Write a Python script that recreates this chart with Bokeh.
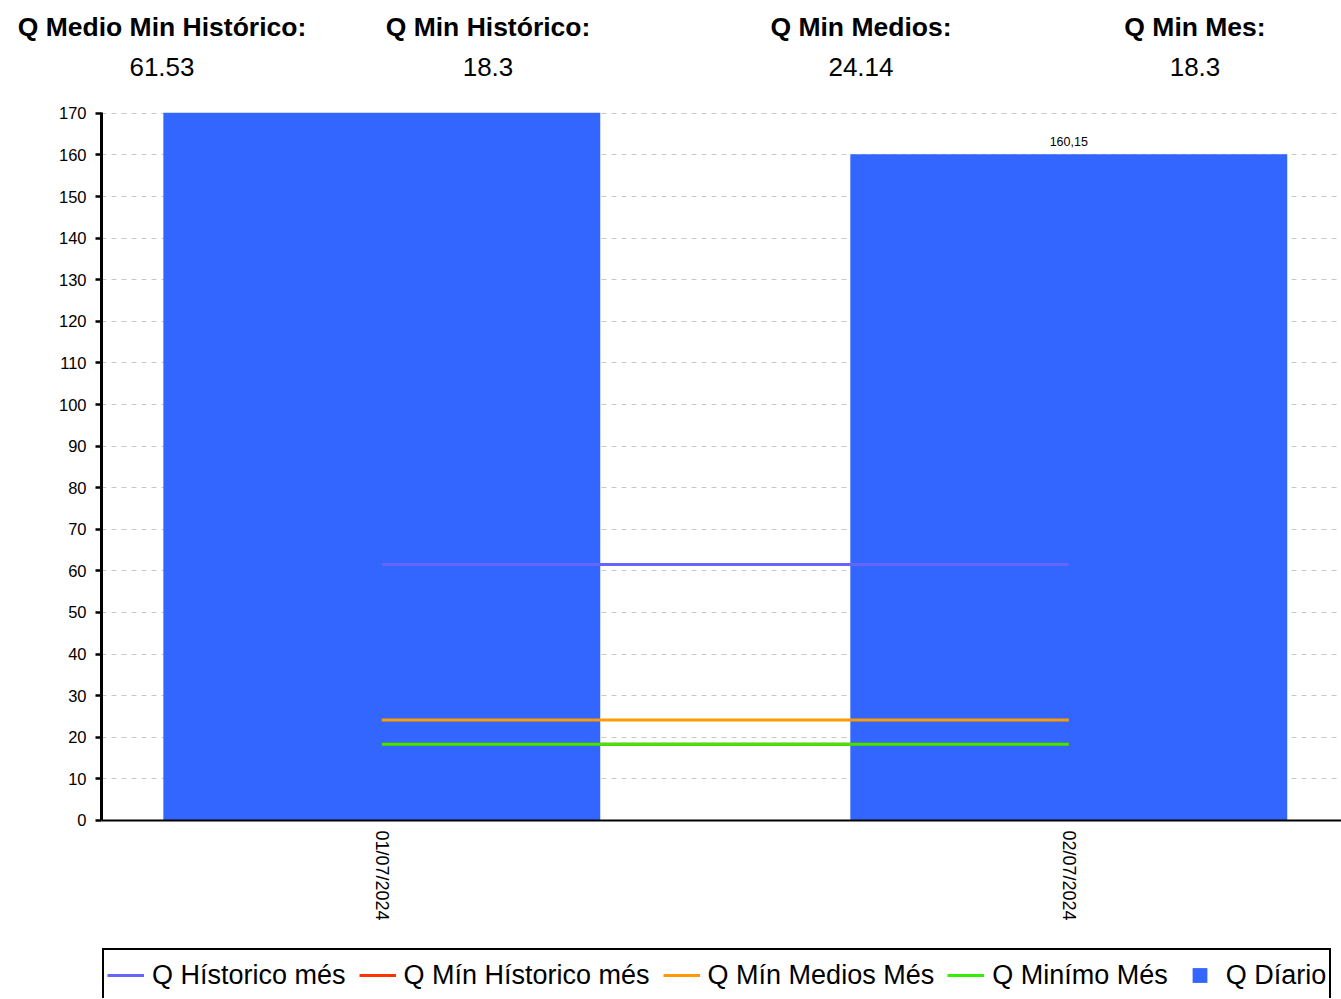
import math
from bokeh.plotting import figure
from bokeh.layouts import column
from bokeh.models import Range1d, FixedTicker, Legend, LegendItem, ColumnDataSource, Div
from bokeh.core.properties import value
from bokeh.embed import file_html
from bokeh.resources import INLINE

# ---------------- data ----------------
dates = ["01/07/2024", "02/07/2024"]
q_diario = [170.5, 160.15]
q_diario_labels = ["170,5", "160,15"]
q_historico_mes = [61.53, 61.53]
q_min_historico_mes = [18.3, 18.3]
q_min_medios_mes = [24.14, 24.14]
q_minimo_mes = [18.3, 18.3]
stat_titles = ["Q Medio Min Histórico:", "Q Min Histórico:", "Q Min Medios:", "Q Min Mes:"]
stat_values = ["61.53", "18.3", "24.14", "18.3"]
y_ticks = list(range(0, 171, 10))
legend_labels = ["Q Hístorico més", "Q Mín Hístorico més", "Q Mín Medios Més", "Q Minímo Més", "Q Díario"]

FONT = "Liberation Sans"
Y_MAX = 170.2
Y_MIN = -42.8   # room below the value axis for the rotated dates and the legend

# ---------------- header (HTML text) ----------------
head_cx = [162, 488, 861, 1195]  # layout: column centres in px
cells = []
for cx, t, v in zip(head_cx, stat_titles, stat_values):
    cells.append(
        f'<div style="position:absolute;left:{cx-200}px;top:9px;width:400px;text-align:center;'
        f'font:bold 26.5px \'{FONT}\';line-height:36px;color:black">{t}</div>'
        f'<div style="position:absolute;left:{cx-200}px;top:49px;width:400px;text-align:center;'
        f'font:26px \'{FONT}\';line-height:36px;color:black">{v}</div>')
header = Div(text=f'<div style="position:relative;width:1341px;height:104px">{"".join(cells)}</div>',
             width=1341, height=104, margin=0)

# ---------------- main chart ----------------
xs = list(range(len(dates)))
p = figure(width=1341, height=894, x_range=Range1d(-0.408, 1.397), y_range=Range1d(Y_MIN, Y_MAX),
           output_backend="svg", toolbar_location=None,
           min_border_left=101, min_border_right=0, min_border_top=8, min_border_bottom=0,
           outline_line_color=None, margin=0)

vis = [i for i, v in enumerate(q_diario) if v <= Y_MAX]
bsrc = ColumnDataSource(dict(x=xs, top=q_diario))
lsrc = ColumnDataSource(dict(x=[xs[i] for i in vis], top=[q_diario[i] for i in vis],
                             lab=[q_diario_labels[i] for i in vis]))
p.vbar(x="x", top="top", bottom=0, width=0.636, source=bsrc, fill_color="#3366FF", line_color=None)
p.text(x="x", y="top", text="lab", source=lsrc, y_offset=-8, text_align="center",
       text_baseline="bottom", text_font=value(FONT), text_font_size="12.5px", text_color="black")

r_hist = p.line(xs, q_historico_mes, line_color="#6666FF", line_width=3)
r_minh = p.line(xs, q_min_historico_mes, line_color="#FF3300", line_width=3)
r_med = p.line(xs, q_min_medios_mes, line_color="#FF9900", line_width=3)
r_min = p.line(xs, q_minimo_mes, line_color="#33EE00", line_width=3)
sq = p.scatter(x="x", y="top", source=bsrc, marker="square", size=0,
               fill_color="#3366FF", line_color=None)

# grid
p.xgrid.visible = False
p.ygrid.ticker = FixedTicker(ticks=y_ticks)
p.ygrid.grid_line_color = "#c8c8c8"
p.ygrid.grid_line_dash = "5 5"
p.ygrid.grid_line_width = 1

# y axis
p.yaxis.ticker = FixedTicker(ticks=y_ticks)
p.yaxis.bounds = (0, Y_MAX)
p.yaxis.axis_line_width = 3
p.yaxis.axis_line_color = "black"
p.yaxis.major_tick_line_width = 2.5
p.yaxis.major_tick_out = 6
p.yaxis.major_tick_in = 0
p.yaxis.minor_tick_line_color = None
p.yaxis.major_label_text_font = FONT
p.yaxis.major_label_text_font_size = "16.5px"
p.yaxis.major_label_text_color = "black"
p.yaxis.major_label_standoff = 9

# x axis, pinned at value 0
p.xaxis.fixed_location = 0
p.xaxis.ticker = FixedTicker(ticks=xs)
p.xaxis.major_label_overrides = {x: d for x, d in zip(xs, dates)}
p.xaxis.major_label_orientation = -math.pi / 2
p.xaxis.axis_line_width = 2
p.xaxis.axis_line_color = "black"
p.xaxis.major_tick_out = 0
p.xaxis.major_tick_in = 0
p.xaxis.minor_tick_line_color = None
p.xaxis.major_label_text_font = FONT
p.xaxis.major_label_text_font_size = "18px"
p.xaxis.major_label_text_color = "black"
p.xaxis.major_label_standoff = 10

legend = Legend(
    items=[LegendItem(label=legend_labels[0], renderers=[r_hist]),
           LegendItem(label=legend_labels[1], renderers=[r_minh]),
           LegendItem(label=legend_labels[2], renderers=[r_med]),
           LegendItem(label=legend_labels[3], renderers=[r_min]),
           LegendItem(label=legend_labels[4], renderers=[sq])],
    orientation="horizontal", location=(1, -4),
    border_line_color="black", border_line_width=2, border_line_alpha=1,
    background_fill_color="white", background_fill_alpha=1,
    label_text_font=FONT, label_text_font_size="27px", label_text_color="black",
    glyph_width=37, glyph_height=44, padding=3, spacing=13, label_standoff=8,
    margin=0,
)
p.add_layout(legend, "center")

layout = column(header, p, spacing=0)
open("out.html", "w").write(file_html(layout, INLINE))
